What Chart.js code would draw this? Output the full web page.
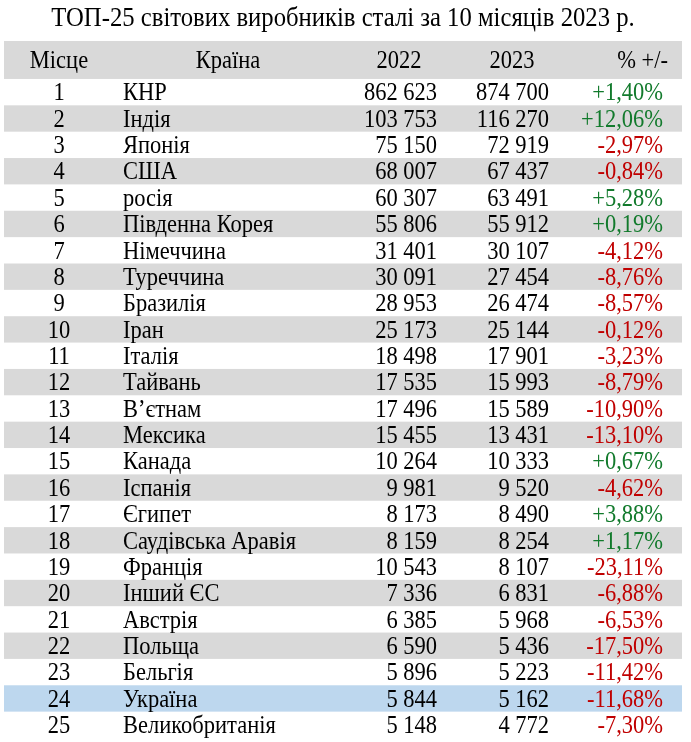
<!DOCTYPE html>
<html>
<head>
<meta charset="utf-8">
<script src="https://cdn.jsdelivr.net/npm/chart.js@4"></script>
<style>
  html, body { margin: 0; padding: 0; background: #ffffff; }
  #wrap { width: 691px; height: 742px; }
</style>
</head>
<body>
<div id="wrap"><canvas id="c" width="691" height="742"></canvas></div>
<script>
// ---- data ----
const titleText = 'ТОП-25 світових виробників сталі за 10 місяців 2023 р.';
const headers = ['Місце', 'Країна', '2022', '2023', '% +/-'];
const ranks = [1,2,3,4,5,6,7,8,9,10,11,12,13,14,15,16,17,18,19,20,21,22,23,24,25];
const countries = ['КНР','Індія','Японія','США','росія','Південна Корея','Німеччина','Туреччина','Бразилія','Іран','Італія','Тайвань','В’єтнам','Мексика','Канада','Іспанія','Єгипет','Саудівська Аравія','Франція','Інший ЄС','Австрія','Польща','Бельгія','Україна','Великобританія'];
const values2022 = [862623,103753,75150,68007,60307,55806,31401,30091,28953,25173,18498,17535,17496,15455,10264,9981,8173,8159,10543,7336,6385,6590,5896,5844,5148];
const values2023 = [874700,116270,72919,67437,63491,55912,30107,27454,26474,25144,17901,15993,15589,13431,10333,9520,8490,8254,8107,6831,5968,5436,5223,5162,4772];
const changePct = [1.40,12.06,-2.97,-0.84,5.28,0.19,-4.12,-8.76,-8.57,-0.12,-3.23,-8.79,-10.90,-13.10,0.67,-4.62,3.88,1.17,-23.11,-6.88,-6.53,-17.50,-11.42,-11.68,-7.30];
const highlightCountry = 'Україна';

// ---- layout / style (options) ----
const FONT = '"Liberation Serif", "Times New Roman", serif';
const BODY_SIZE = 22.5;
const TITLE_SIZE = 24.7;
const SCALE_Y = 1.08;           // vertical stretch of glyphs seen in the reference
const HEADER_H = 1.44;          // header row height in row units
const X_MAX = 678;              // x scale width
const cols = [                  // anchor on x scale, alignment for body, header anchor, header alignment
  { x: 55,  align: 'center', hx: 55,  halign: 'center' },
  { x: 119, align: 'left',   hx: 224, halign: 'center' },
  { x: 433, align: 'right',  hx: 395, halign: 'center' },
  { x: 545, align: 'right',  hx: 508, halign: 'center' },
  { x: 659, align: 'right',  hx: 664, halign: 'right' }
];
const GRAY = '#d9d9d9', BLUE = '#bdd7ee', GREEN = '#127a2c', RED = '#c00000';

const fmtInt = v => String(v).replace(/\B(?=(\d{3})+(?!\d))/g, '\u00a0');
const fmtPct = v => (v >= 0 ? '+' : '-') + Math.abs(v).toFixed(2).replace('.', ',') + '%';

const colText = [
  ranks.map(String),
  countries,
  values2022.map(fmtInt),
  values2023.map(fmtInt),
  changePct.map(fmtPct)
];
const colColor = [
  ranks.map(() => '#000'),
  countries.map(() => '#000'),
  values2022.map(() => '#000'),
  values2023.map(() => '#000'),
  changePct.map(v => v >= 0 ? GREEN : RED)
];

const datasets = cols.map((c, ci) => ({
  label: headers[ci],
  data: ranks.map((r, i) => ({ x: c.x, y: i + 0.5 })),
  pointRadius: 0,
  pointHoverRadius: 0,
  showLine: false
}));

function drawText(ctx, text, x, yMid, align, color, size) {
  ctx.save();
  ctx.font = size + 'px ' + FONT;
  ctx.textAlign = align;
  ctx.textBaseline = 'alphabetic';
  ctx.fillStyle = color;
  ctx.translate(x, yMid + 0.338 * size * SCALE_Y);
  ctx.scale(1, SCALE_Y);
  ctx.fillText(text, 0, 0);
  ctx.restore();
}

const tablePlugin = {
  id: 'tablePlugin',
  beforeDatasetsDraw(chart) {
    const { ctx, scales: { x, y } } = chart;
    const x0 = x.getPixelForValue(0), x1 = x.getPixelForValue(X_MAX);
    ctx.save();
    ctx.fillStyle = GRAY;
    const hy0 = y.getPixelForValue(-HEADER_H), hy1 = y.getPixelForValue(0);
    ctx.fillRect(x0, hy0, x1 - x0, hy1 - hy0);
    countries.forEach((c, i) => {
      let fill = null;
      if (c === highlightCountry) fill = BLUE;
      else if (i % 2 === 1) fill = GRAY;
      if (!fill) return;
      const ya = y.getPixelForValue(i), yb = y.getPixelForValue(i + 1);
      ctx.fillStyle = fill;
      ctx.fillRect(x0, ya, x1 - x0, yb - ya);
    });
    ctx.restore();
  },
  afterDatasetsDraw(chart) {
    const { ctx, chartArea, scales: { x, y } } = chart;
    // title
    drawText(ctx, titleText, (chartArea.left + chartArea.right) / 2, 17, 'center', '#000', TITLE_SIZE);
    const hy = y.getPixelForValue(-HEADER_H / 2);
    cols.forEach((c, ci) => {
      drawText(ctx, headers[ci], x.getPixelForValue(c.hx), hy, c.halign, '#000', BODY_SIZE);
      const meta = chart.getDatasetMeta(ci);
      meta.data.forEach((el, i) => {
        drawText(ctx, colText[ci][i], el.x, el.y, c.align, colColor[ci][i], BODY_SIZE);
      });
    });
  }
};

new Chart(document.getElementById('c'), {
  type: 'scatter',
  data: { datasets },
  options: {
    responsive: false,
    animation: false,
    events: [],
    layout: { padding: { left: 4, right: 9, top: 41, bottom: 4 } },
    scales: {
      x: { type: 'linear', min: 0, max: X_MAX, display: false },
      y: { type: 'linear', min: -HEADER_H, max: 25, reverse: true, display: false }
    },
    plugins: {
      legend: { display: false },
      tooltip: { enabled: false },
      title: { display: false }
    }
  },
  plugins: [tablePlugin]
});
</script>
</body>
</html>
